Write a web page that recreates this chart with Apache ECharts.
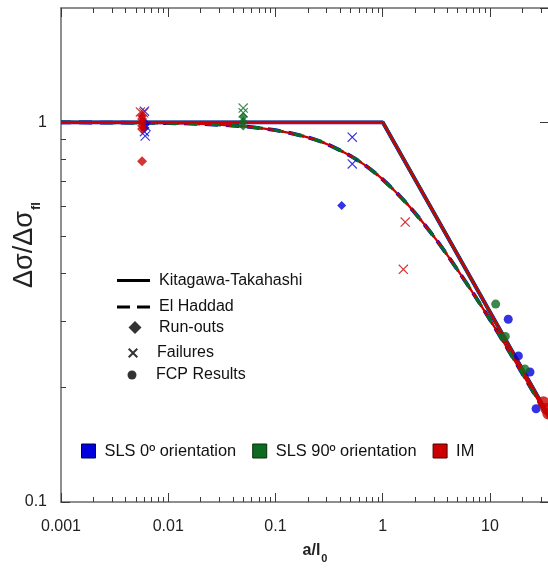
<!DOCTYPE html>
<html>
<head>
<meta charset="utf-8">
<script src="https://cdn.jsdelivr.net/npm/echarts@6/dist/echarts.min.js"></script>
<style>html,body{margin:0;padding:0;background:#fff}#chart{width:548px;height:571px}</style>
</head>
<body>
<div id="chart"></div>
<script>
// ---------- axis ranges & ticks ----------
const X_MIN = 0.001, X_MAX = 35.5;
const Y_MIN = 0.1, Y_MAX = 2;
const xMinorTicks = [0.002,0.003,0.004,0.005,0.006,0.007,0.008,0.009,
  0.02,0.03,0.04,0.05,0.06,0.07,0.08,0.09,
  0.2,0.3,0.4,0.5,0.6,0.7,0.8,0.9,
  2,3,4,5,6,7,8,9,20,30];
const yMinorTicks = [0.2,0.3,0.4,0.5,0.6,0.7,0.8,0.9];

// ---------- model curves ----------
const ktX = [0.001, 1, 35.5];
const ktY = [1, 1, 0.168];
const ehX = [0.001,0.003,0.01,0.02,0.05,0.1,0.2,0.3,0.5,0.7,1,1.5,2,3,4,5,7,10,15,20,25,30,35.5];
const ehY = [1.0,0.998,0.995,0.99,0.976,0.953,0.913,0.877,0.816,0.767,0.707,0.632,0.577,0.5,0.447,0.408,0.354,0.302,0.25,0.218,0.196,0.18,0.166];

// ---------- experimental points ----------
// SLS 0º orientation (blue)
const sls0RunOuts  = [[0.006,1.0],[0.006,0.965],[0.0061,0.985],[0.414,0.604]];
const sls0Failures = [[0.006,1.07],[0.0061,0.92],[0.006,0.945],[0.0062,0.975],[0.52,0.914],[0.52,0.777]];
const sls0FCP      = [[14.8,0.303],[18.4,0.2425],[23.6,0.22],[26.9,0.176]];
// SLS 90º orientation (green)
const sls90RunOuts  = [[0.05,1.035],[0.05,1.005],[0.05,0.978]];
const sls90Failures = [[0.05,1.09],[0.05,1.06]];
const sls90FCP      = [[11.3,0.332],[13.9,0.273],[21.1,0.224]];
// IM (red)
const imRunOuts  = [[0.0057,1.04],[0.0057,1.02],[0.0057,1.0],[0.0057,0.98],[0.0057,0.96],[0.0057,0.79]];
const imFailures = [[0.0055,1.065],[0.0059,1.06],[1.62,0.546],[1.556,0.41]];
const imFCP      = [[31.5,0.183],[33.5,0.176],[35,0.171]];

// ---------- styling ----------
const FONT = 'Liberation Sans, Arial, sans-serif';
const BLUE = '#0000dc', GREEN = '#0e6a20', RED = '#cc0000';
const CROSS = 'path://M0,0.8L0.8,0L5,4.2L9.2,0L10,0.8L5.8,5L10,9.2L9.2,10L5,5.8L0.8,10L0,9.2L4.2,5Z';
const CROSS_BOLD = 'path://M0,1.4L1.4,0L5,3.6L8.6,0L10,1.4L6.4,5L10,8.6L8.6,10L5,6.4L1.4,10L0,8.6L3.6,5Z';
const NAMES = ['SLS 0º orientation', 'SLS 90º orientation', 'IM'];

const zip = (xs, ys) => xs.map((x, i) => [x, ys[i]]);
const ktData = zip(ktX, ktY);
const ehData = zip(ehX, ehY);

function curve(name, data, color, width, dashed, offset) {
  return {
    type: 'line', name, data, symbol: 'none', smooth: dashed ? 0.3 : false,
    xAxisIndex: 0, yAxisIndex: 0, silent: true,
    itemStyle: { color },
    lineStyle: { color, width, type: dashed ? [13, 8] : 'solid', dashOffset: offset || 0 },
    z: 2
  };
}
function pts(name, data, color, symbol, size) {
  return {
    type: 'scatter', name, data, symbol, symbolSize: size,
    xAxisIndex: 0, yAxisIndex: 0, silent: true,
    itemStyle: { color }, z: 3
  };
}

const series = [
  curve(NAMES[0], ktData, BLUE, 3.8, false),
  curve(NAMES[0], ehData, BLUE, 3.8, true, 3),
  curve(NAMES[1], ktData, GREEN, 3.2, false),
  curve(NAMES[1], ehData, GREEN, 3.2, true, 0),
  curve(NAMES[2], ktData, RED, 2.3, false),
  curve(NAMES[2], ehData, RED, 2.3, true, 10),
  pts(NAMES[0], sls0RunOuts, BLUE, 'diamond', 9),
  pts(NAMES[0], sls0Failures, BLUE, CROSS, 10),
  pts(NAMES[0], sls0FCP, BLUE, 'circle', 9),
  pts(NAMES[1], sls90RunOuts, GREEN, 'diamond', 9),
  pts(NAMES[1], sls90Failures, GREEN, CROSS, 10),
  pts(NAMES[1], sls90FCP, GREEN, 'circle', 9),
  pts(NAMES[2], imRunOuts, RED, 'diamond', 10),
  pts(NAMES[2], imFailures, RED, CROSS, 10),
  pts(NAMES[2], imFCP, RED, 'circle', 12),
  // legend-only (black key) series
  { type: 'line', name: 'Kitagawa-Takahashi', data: [], itemStyle: { color: '#000' } },
  { type: 'line', name: 'El Haddad', data: [], itemStyle: { color: '#000' } },
  { type: 'scatter', name: 'Run-outs', data: [], symbol: 'diamond', itemStyle: { color: '#000' } },
  { type: 'scatter', name: 'Failures', data: [], symbol: CROSS_BOLD, itemStyle: { color: '#000' } },
  { type: 'scatter', name: 'FCP Results', data: [], symbol: 'circle', itemStyle: { color: '#000' } }
];

const keyText = (pad) => ({ fontSize: 16, color: '#111', fontFamily: FONT, padding: [0, 0, 0, pad] });
const legends = [
  { data: [{ name: 'Kitagawa-Takahashi', icon: 'path://M0,0H33V3H0Z' }], left: 117, top: 272.5, itemWidth: 33, itemHeight: 3, textStyle: keyText(4) },
  { data: [{ name: 'El Haddad', icon: 'path://M0,0H13V3H0ZM20,0H33V3H20Z' }], left: 117, top: 299, itemWidth: 33, itemHeight: 3, textStyle: keyText(4) },
  { data: [{ name: 'Run-outs', icon: 'diamond' }], left: 128.5, top: 319.5, itemWidth: 13, itemHeight: 13, textStyle: keyText(12.5) },
  { data: [{ name: 'Failures', icon: CROSS_BOLD }], left: 128, top: 345, itemWidth: 10, itemHeight: 10, textStyle: keyText(14) },
  { data: [{ name: 'FCP Results', icon: 'circle' }], left: 127.5, top: 367, itemWidth: 9, itemHeight: 9, textStyle: keyText(14.5) },
  { data: [
      { name: NAMES[0], icon: 'rect', itemStyle: { color: BLUE, borderColor: '#00004a', borderWidth: 1 } },
      { name: NAMES[1], icon: 'rect', itemStyle: { color: GREEN, borderColor: '#02300a', borderWidth: 1 } },
      { name: NAMES[2], icon: 'rect', itemStyle: { color: RED, borderColor: '#4a0000', borderWidth: 1 } }
    ], left: 81, top: 443, itemWidth: 14, itemHeight: 14, itemGap: 16,
    textStyle: { fontSize: 16.4, color: '#111', fontFamily: FONT, padding: [0, 0, 0, 4] } }
].map(l => Object.assign({ orient: 'horizontal', padding: 0, selectedMode: false, show: true }, l));

const AXLINE = { show: true, onZero: false, lineStyle: { color: '#6a6a6a', width: 1.5 } };
const NOLINE = { show: false, onZero: false };
const TICKSTYLE = { color: '#3a3a3a', width: 1 };
const lx0 = Math.log10(X_MIN), lx1 = Math.log10(X_MAX);
const ly0 = Math.log10(Y_MIN), ly1 = Math.log10(Y_MAX);

const option = {
  animation: false,
  backgroundColor: '#fff',
  textStyle: { fontFamily: FONT },
  grid: { left: 61, right: -1, top: 8, bottom: 69, containLabel: false, outerBoundsMode: 'none' },
  legend: legends,
  xAxis: [
    { type: 'log', logBase: 10, min: X_MIN, max: X_MAX, position: 'bottom',
      axisLine: AXLINE, splitLine: { show: false },
      axisTick: { show: true, inside: true, length: 9, lineStyle: TICKSTYLE },
      axisLabel: { show: true, margin: 17, fontSize: 16, color: '#222', fontFamily: FONT, showMaxLabel: false },
      name: '{a|a/l}{b|0}', nameLocation: 'middle', nameGap: 44, nameMoveOverlap: false,
      nameTextStyle: { rich: {
        a: { fontSize: 16, fontWeight: 'bold', color: '#222', fontFamily: FONT, lineHeight: 18, padding: [0, 0, 5, 20], verticalAlign: 'bottom' },
        b: { fontSize: 11, fontWeight: 'bold', color: '#222', fontFamily: FONT, lineHeight: 12, verticalAlign: 'bottom', padding: [0, 0, 0, 1] }
      } } },
    { type: 'value', min: lx0, max: lx1, position: 'bottom',
      axisLine: NOLINE, splitLine: { show: false }, axisLabel: { show: false },
      axisTick: { show: true, inside: true, length: 5, lineStyle: TICKSTYLE, customValues: xMinorTicks.map(Math.log10) } },
    { type: 'log', logBase: 10, min: X_MIN, max: X_MAX, position: 'top',
      axisLine: AXLINE, splitLine: { show: false }, axisLabel: { show: false },
      axisTick: { show: true, inside: true, length: 9, lineStyle: TICKSTYLE } },
    { type: 'value', min: lx0, max: lx1, position: 'top',
      axisLine: NOLINE, splitLine: { show: false }, axisLabel: { show: false },
      axisTick: { show: true, inside: true, length: 5, lineStyle: TICKSTYLE, customValues: xMinorTicks.map(Math.log10) } }
  ],
  yAxis: [
    { type: 'log', logBase: 10, min: Y_MIN, max: Y_MAX, position: 'left',
      axisLine: AXLINE, splitLine: { show: false },
      axisTick: { show: true, inside: true, length: 9, lineStyle: TICKSTYLE },
      axisLabel: { show: true, margin: 14, fontSize: 16, color: '#222', fontFamily: FONT, showMaxLabel: false },
      name: '{a|Δσ/Δσ}{b|fl}', nameLocation: 'middle', nameRotate: 90, nameGap: 18, nameMoveOverlap: false,
      nameTextStyle: { rich: {
        a: { fontSize: 27, color: '#222', fontFamily: FONT, lineHeight: 30, padding: [0, 0, 5, 20], verticalAlign: 'bottom' },
        b: { fontSize: 13, fontWeight: 'bold', color: '#222', fontFamily: FONT, lineHeight: 15, verticalAlign: 'bottom', padding: [0, 0, 0, 1] }
      } } },
    { type: 'value', min: ly0, max: ly1, position: 'left',
      axisLine: NOLINE, splitLine: { show: false }, axisLabel: { show: false },
      axisTick: { show: true, inside: true, length: 5, lineStyle: TICKSTYLE, customValues: yMinorTicks.map(Math.log10) } },
    { type: 'log', logBase: 10, min: Y_MIN, max: Y_MAX, position: 'right',
      axisLine: AXLINE, splitLine: { show: false }, axisLabel: { show: false },
      axisTick: { show: true, inside: true, length: 9, lineStyle: TICKSTYLE } }
  ],
  series
};

const chart = echarts.init(document.getElementById('chart'), null, { renderer: 'canvas' });
chart.setOption(option);
</script>
</body>
</html>
